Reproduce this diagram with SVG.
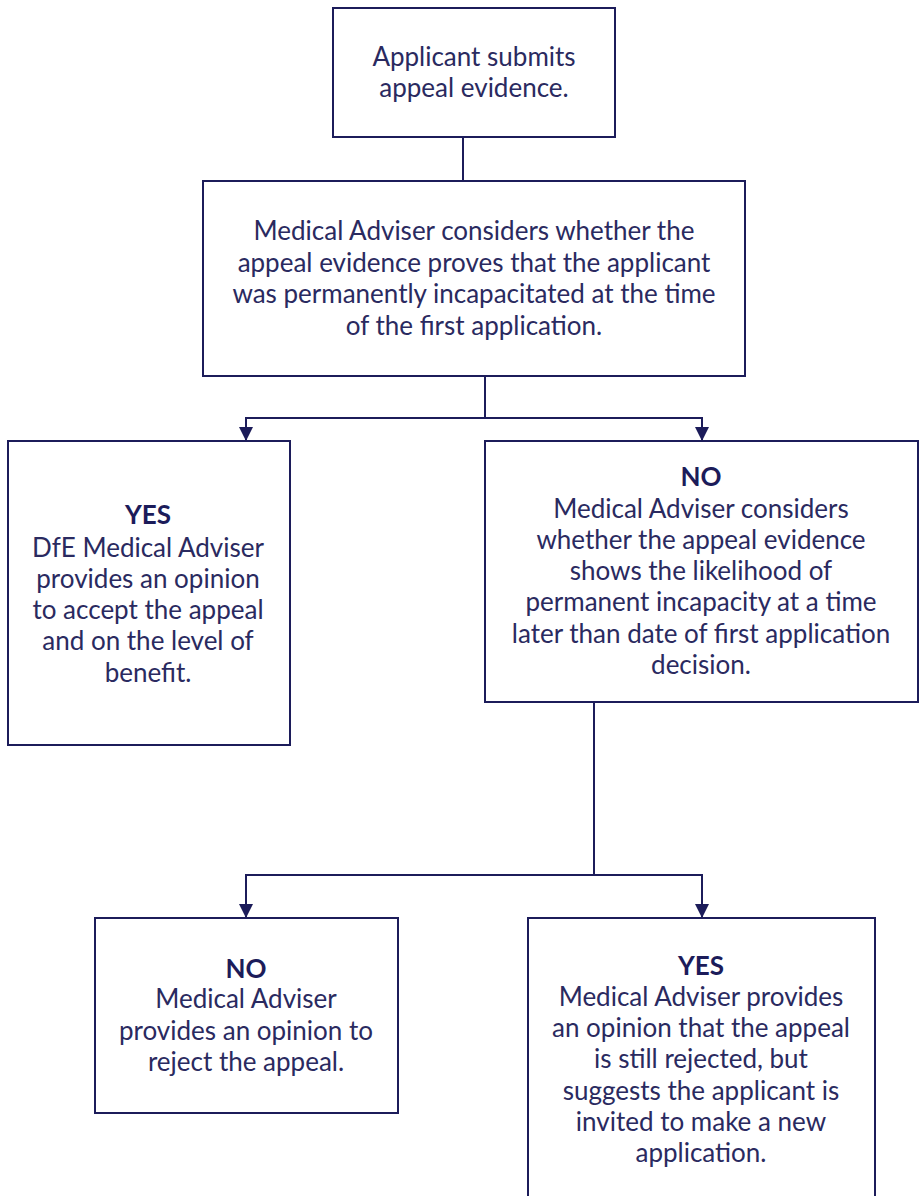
<svg xmlns="http://www.w3.org/2000/svg" width="920" height="1196" viewBox="0 0 920 1196">
<defs>
<style>
.box{fill:#fff;stroke:#1c1c5a;stroke-width:2}
.t{font-family:Lato,"Open Sans","Liberation Sans",sans-serif;font-size:26px;fill:#2a2a60;text-anchor:middle}
.b{font-weight:bold;fill:#1c1c5a}
.c{fill:none;stroke:#1c1c5a;stroke-width:2}
</style>
<marker id="ah" viewBox="0 0 10 10" refX="10" refY="5" markerWidth="14" markerHeight="14" markerUnits="userSpaceOnUse" orient="auto"><path d="M0,0 L10,5 L0,10 z" fill="#1c1c5a"/></marker>
</defs>
<rect width="920" height="1196" fill="#fff"/>
<g id="connectors">
<path class="c" d="M463,137 V181"/>
<path class="c" d="M485,376 V418"/>
<path class="c" d="M485,418 H246 V441" marker-end="url(#ah)"/>
<path class="c" d="M485,418 H702 V441" marker-end="url(#ah)"/>
<path class="c" d="M594,702 V875"/>
<path class="c" d="M594,875 H246 V918" marker-end="url(#ah)"/>
<path class="c" d="M594,875 H702 V918" marker-end="url(#ah)"/>
</g>
<g id="n1">
<rect class="box" x="333" y="8" width="282" height="129"/>
<text class="t" x="474" y="66">Applicant submits</text>
<text class="t" x="474" y="97">appeal evidence.</text>
</g>
<g id="n2">
<rect class="box" x="203" y="181" width="542" height="195"/>
<text class="t" x="474" y="240">Medical Adviser considers whether the</text>
<text class="t" x="474" y="272">appeal evidence proves that the applicant</text>
<text class="t" x="474" y="303">was permanently incapacitated at the time</text>
<text class="t" x="474" y="335">of the first application.</text>
</g>
<g id="n3">
<rect class="box" x="8" y="441" width="282" height="304"/>
<text class="t b" x="148" y="524">YES</text>
<text class="t" x="148" y="557">DfE Medical Adviser</text>
<text class="t" x="148" y="588">provides an opinion</text>
<text class="t" x="148" y="619">to accept the appeal</text>
<text class="t" x="148" y="650">and on the level of</text>
<text class="t" x="148" y="682">benefit.</text>
</g>
<g id="n4">
<rect class="box" x="485" y="441" width="433" height="261"/>
<text class="t b" x="701" y="486">NO</text>
<text class="t" x="701" y="518">Medical Adviser considers</text>
<text class="t" x="701" y="549">whether the appeal evidence</text>
<text class="t" x="701" y="580">shows the likelihood of</text>
<text class="t" x="701" y="611">permanent incapacity at a time</text>
<text class="t" x="701" y="643">later than date of first application</text>
<text class="t" x="701" y="674">decision.</text>
</g>
<g id="n5">
<rect class="box" x="95" y="918" width="303" height="195"/>
<text class="t b" x="246" y="978">NO</text>
<text class="t" x="246" y="1008">Medical Adviser</text>
<text class="t" x="246" y="1040">provides an opinion to</text>
<text class="t" x="246" y="1071">reject the appeal.</text>
</g>
<g id="n6">
<rect class="box" x="528" y="918" width="347" height="290"/>
<text class="t b" x="701" y="975">YES</text>
<text class="t" x="701" y="1006">Medical Adviser provides</text>
<text class="t" x="701" y="1037">an opinion that the appeal</text>
<text class="t" x="701" y="1068">is still rejected, but</text>
<text class="t" x="701" y="1100">suggests the applicant is</text>
<text class="t" x="701" y="1131">invited to make a new</text>
<text class="t" x="701" y="1162">application.</text>
</g>
</svg>
